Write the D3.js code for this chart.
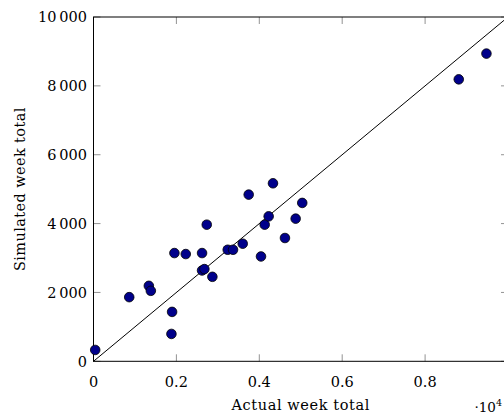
<!DOCTYPE html>
<html>
<head>
<meta charset="utf-8">
<script src="https://cdn.jsdelivr.net/npm/d3@7"></script>
<style>
  body { margin: 0; background: #fff; }
  svg { display: block; }
  text { font-family: "DejaVu Serif", serif; fill: #000; }
</style>
</head>
<body>
<div id="chart"></div>
<script>
// actual vs simulated week totals
const actual = [41, 862, 1335, 1383, 1896, 1880, 1952, 2226, 2619, 2732, 2619, 2675, 2868,
  3238, 3366, 3600, 3744, 4041, 4130, 4226, 4330, 5036, 4877, 4619, 9480, 8812];
const simulated = [330, 1863, 2192, 2047, 1435, 795, 3144, 3115, 3144, 3968, 2638, 2678, 2454,
  3240, 3240, 3415, 4841, 3045, 3968, 4210, 5170, 4600, 4143, 3581, 8937, 8189];
const xTicks = [0, 2000, 4000, 6000, 8000, 10000];
const xTickLabels = ["0", "0.2", "0.4", "0.6", "0.8"];
const yTicks = [0, 2000, 4000, 6000, 8000, 10000];

const width = 504, height = 417;
const plotL = 93.5, plotR = 508, plotT = 17, plotB = 361.3;

const svg = d3.select("#chart").append("svg")
  .attr("width", width)
  .attr("height", height);

const x = d3.scaleLinear().domain([0, 10000]).range([plotL, plotR]);
const y = d3.scaleLinear().domain([0, 10000]).range([plotB, plotT]);

const fmtY = (d) => d >= 1000 ? Math.floor(d / 1000) + "\u2009" + "000" : String(d);

const tickLen = 7;

// inner ticks
const tg = svg.append("g").attr("stroke", "#777").attr("stroke-width", 0.8);
tg.selectAll(".xb").data(xTicks).join("line")
  .attr("x1", (d) => x(d)).attr("x2", (d) => x(d))
  .attr("y1", plotB).attr("y2", plotB - tickLen);
tg.selectAll(".xt").data(xTicks).join("line")
  .attr("x1", (d) => x(d)).attr("x2", (d) => x(d))
  .attr("y1", plotT).attr("y2", plotT + tickLen);
tg.selectAll(".yl").data(yTicks).join("line")
  .attr("x1", plotL).attr("x2", plotL + tickLen)
  .attr("y1", (d) => y(d)).attr("y2", (d) => y(d));
tg.selectAll(".yr").data(yTicks).join("line")
  .attr("x1", plotR).attr("x2", plotR - tickLen)
  .attr("y1", (d) => y(d)).attr("y2", (d) => y(d));

// frame
svg.append("rect")
  .attr("x", plotL).attr("y", plotT)
  .attr("width", plotR - plotL).attr("height", plotB - plotT)
  .attr("fill", "none").attr("stroke", "#000").attr("stroke-width", 1);

// tick labels
svg.append("g").selectAll("text").data(xTickLabels).join("text")
  .attr("x", (d, i) => x(xTicks[i])).attr("y", 387)
  .attr("text-anchor", "middle").attr("font-size", "14.5px")
  .text((d) => d);
svg.append("g").selectAll("text").data(yTicks).join("text")
  .attr("x", 87).attr("y", (d) => y(d)).attr("dy", "0.36em")
  .attr("text-anchor", "end").attr("font-size", "14.5px")
  .text(fmtY);

// scale label
const sc = svg.append("text").attr("x", 502).attr("y", 412)
  .attr("text-anchor", "end").attr("font-size", "13.5px");
sc.append("tspan").text("\u00b710");
sc.append("tspan").attr("font-size", "9.5px").attr("dy", -6).text("4");

// axis labels
svg.append("text")
  .attr("x", (plotL + plotR) / 2).attr("y", 410)
  .attr("text-anchor", "middle").attr("font-size", "14.5px")
  .attr("letter-spacing", "0.6px")
  .text("Actual week total");
svg.append("text")
  .attr("transform", `translate(25,${(plotT + plotB) / 2}) rotate(-90)`)
  .attr("text-anchor", "middle").attr("font-size", "14.5px")
  .attr("letter-spacing", "0.4px")
  .text("Simulated week total");

// y = x reference line
svg.append("line")
  .attr("x1", x(0)).attr("y1", y(0))
  .attr("x2", x(10000)).attr("y2", y(10000))
  .attr("stroke", "#000").attr("stroke-width", 1);

// points
svg.append("g").selectAll("circle").data(actual).join("circle")
  .attr("cx", (d) => x(d))
  .attr("cy", (d, i) => y(simulated[i]))
  .attr("r", 4.8)
  .attr("fill", "#00008b")
  .attr("stroke", "#000")
  .attr("stroke-width", 0.8);
</script>
</body>
</html>
